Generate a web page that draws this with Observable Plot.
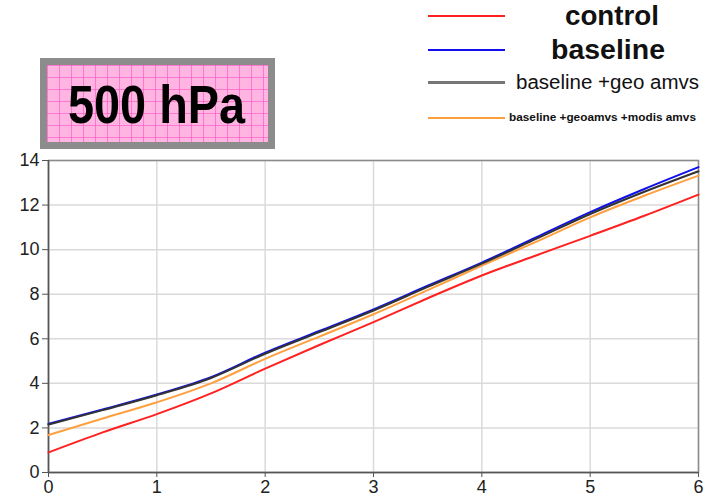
<!DOCTYPE html>
<html>
<head>
<meta charset="utf-8">
<script src="https://cdn.jsdelivr.net/npm/d3@7"></script>
<script src="https://cdn.jsdelivr.net/npm/@observablehq/plot@0.6"></script>
<style>
  html, body { margin: 0; padding: 0; background: #fff; }
  #wrap { position: relative; width: 704px; height: 502px; font-family: "Liberation Sans", Arial, sans-serif; }
  #chart { position: absolute; left: 0; top: 0; }
  .titlebox {
    position: absolute; left: 40px; top: 58px; width: 221px; height: 77px;
    border: 7px solid #8c8c8c;
    background-color: #ffb4e2;
    background-image:
      repeating-linear-gradient(to right, rgba(255,60,190,0.5) 0 1px, transparent 1px 12px),
      repeating-linear-gradient(to bottom, rgba(255,60,190,0.5) 0 1px, transparent 1px 12px);
  }
  .titletext {
    position: absolute; left: 0; top: 0; white-space: nowrap;
    font-weight: bold; font-size: 54px; color: #000; line-height: 1;
    transform-origin: 0 0;
  }
  .leg { position: absolute; white-space: nowrap; color: #111; line-height: 1; transform-origin: 0 50%; }
  .legline { position: absolute; left: 428px; width: 77px; height: 2px; }
</style>
</head>
<body>
<div id="wrap">
  <div id="chart"></div>
</div>
<script>
const days = [0, 0.5, 1, 1.5, 2, 2.5, 3, 3.5, 4, 4.5, 5, 5.5, 6];
const control  = [0.9, 1.8, 2.62, 3.55, 4.66, 5.72, 6.75, 7.82, 8.84, 9.74, 10.62, 11.52, 12.47];
const baseline = [2.18, 2.83, 3.5, 4.28, 5.38, 6.35, 7.32, 8.38, 9.42, 10.55, 11.68, 12.72, 13.7];
const baseGeo  = [2.15, 2.8, 3.47, 4.24, 5.33, 6.3, 7.27, 8.33, 9.37, 10.48, 11.6, 12.6, 13.52];
const baseGeoModis = [1.68, 2.42, 3.15, 4.0, 5.1, 6.1, 7.1, 8.18, 9.28, 10.35, 11.45, 12.42, 13.32];
const seriesNames = ["control", "baseline", "baseline +geo amvs", "baseline +geoamvs +modis amvs"];
const seriesColors = ["#ff2020", "#1010ee", "#333333", "#ffa040"];
const xTicks = [0, 1, 2, 3, 4, 5, 6];
const yTicks = [0, 2, 4, 6, 8, 10, 12, 14];
const titleText = "500 hPa";

const allSeries = [control, baseline, baseGeo, baseGeoModis];
const rows = [];
allSeries.forEach((vals, i) => vals.forEach((v, j) => rows.push({series: seriesNames[i], day: days[j], value: v})));
const drawOrder = [0, 3, 1, 2];

const marks = [
  Plot.gridX(xTicks, {stroke: "#dadada", strokeOpacity: 1, strokeWidth: 1.5}),
  Plot.gridY(yTicks, {stroke: "#dadada", strokeOpacity: 1, strokeWidth: 1.5}),
  Plot.frame({stroke: "#8a8a8a", strokeWidth: 1.5}),
  Plot.axisX(xTicks, {tickSize: 5, tickPadding: 3, fontSize: 18, stroke: "#555", color: "#222", tickFormat: d => String(d)}),
  Plot.axisY(yTicks, {tickSize: 6, tickPadding: 3, fontSize: 18, stroke: "#555", color: "#222", tickFormat: d => String(d)}),
  Plot.ruleX([0], {stroke: "#555", strokeWidth: 1.5}),
  Plot.ruleY([0], {stroke: "#555", strokeWidth: 1.5}),
  ...drawOrder.map(i => Plot.line(rows.filter(r => r.series === seriesNames[i]), {x: "day", y: "value", stroke: seriesColors[i], strokeWidth: 2, curve: "monotone-x"}))
];

const plot = Plot.plot({
  width: 704,
  height: 502,
  marginLeft: 48,
  marginRight: 6,
  marginTop: 160,
  marginBottom: 30,
  x: {domain: [0, 6], label: null},
  y: {domain: [0, 14], label: null},
  style: {fontFamily: "Liberation Sans, Arial, sans-serif", background: "transparent"},
  marks
});
document.getElementById("chart").appendChild(plot);

const wrap = document.getElementById("wrap");
const tb = document.createElement("div");
tb.className = "titlebox";
wrap.appendChild(tb);
const tt = document.createElement("div");
tt.className = "titletext";
tt.textContent = titleText;
wrap.appendChild(tt);
// fit title text into box: x 68..245, vertical centre ~104
{
  const w = tt.getBoundingClientRect().width;
  const sx = 177 / w;
  tt.style.left = "68px";
  tt.style.top = (104 - 27) + "px";
  tt.style.transform = `scaleX(${sx})`;
}

const legendLayout = [
  {y: 16, left: 565, right: 659, size: 27, weight: "bold"},
  {y: 50, left: 551, right: 665, size: 27, weight: "bold"},
  {y: 82, left: 516, right: 699, size: 20, weight: "normal"},
  {y: 118, left: 509, right: 696, size: 10, weight: "bold"}
];
seriesNames.forEach((name, i) => {
  const L = legendLayout[i];
  const ln = document.createElement("div");
  ln.className = "legline";
  ln.style.top = (L.y - 1) + "px";
  ln.style.background = seriesColors[i] === "#333333" ? "#777" : seriesColors[i];
  if (seriesColors[i] === "#333333") { ln.style.height = "3px"; }
  wrap.appendChild(ln);
  const t = document.createElement("div");
  t.className = "leg";
  t.textContent = name;
  t.style.left = L.left + "px";
  t.style.fontSize = L.size + "px";
  t.style.fontWeight = L.weight;
  wrap.appendChild(t);
  const r = t.getBoundingClientRect();
  t.style.top = (L.y - r.height / 2) + "px";
  t.style.transform = `scaleX(${(L.right - L.left) / r.width})`;
});
</script>
</body>
</html>
